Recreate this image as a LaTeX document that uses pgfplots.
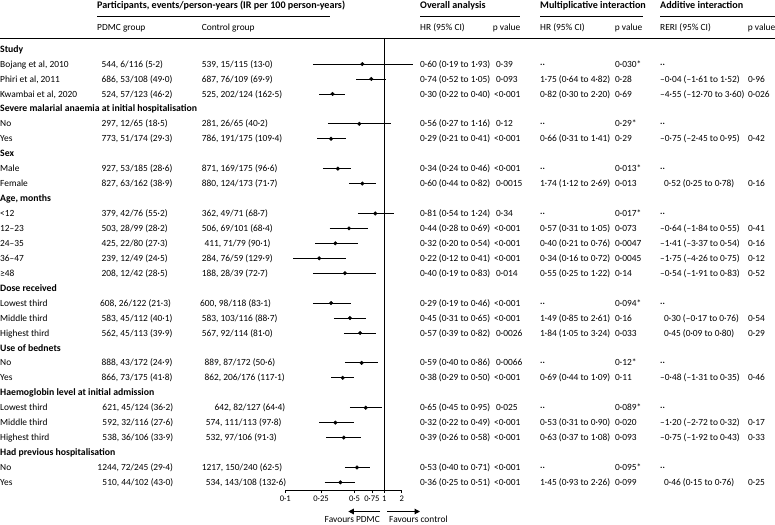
\documentclass[border=0pt]{standalone}
\usepackage{fontspec}
\setmainfont{Carlito}
\usepackage{pgfplots}
\pgfplotsset{compat=1.18}
\usetikzlibrary{arrows.meta}

\newcommand\T[3]{\node[anchor=base west,inner sep=0pt] at (#1,{52.2+14.94*(#2)}) {#3};}
\newcommand\HD[3]{\node[anchor=base west,inner sep=0pt] at (#1,#2) {#3};}
\newcommand\SecHead{\fontsize{9.75bp}{11bp}\selectfont\bfseries}
\newcommand\TopHead{\fontsize{10.1bp}{11bp}\selectfont\bfseries}

\begin{document}
\fontsize{9.4bp}{11bp}\selectfont
\begin{tikzpicture}
\useasboundingbox (0,0) rectangle (775bp,-525bp);
\begin{axis}[
  at={(343.5bp,-264.15bp)}, anchor=center,
  scale only axis, width=116.4bp, height=451.7bp,
  xmode=log, xmin=0.1, xmax=1.5, ymin=-29.51, ymax=0.723,
  axis y line=none, axis x line*=bottom,
  x axis line style={-, line width=0.7bp},
  clip=false,
  xtick={0.1,0.23,0.5,0.75,1,1.5},
  xticklabels={0·1,0·25,0·5,0·75,1,2},
  minor xtick={}, minor tick num=0,
  tick align=outside, major tick length=3bp,
  xtick style={black, line width=0.6bp},
  xticklabel style={inner sep=0pt, anchor=base, yshift=-8.5bp, font=\fontsize{8.6bp}{10bp}\selectfont},
]
% reference line at HR = 1
\addplot[black, line width=0.8bp] coordinates {(1,0.723) (1,-29.51)};
% confidence intervals
\addplot[black, line width=0.8bp] coordinates {(0.19,-1) (1.93,-1)};
\addplot[black, line width=0.8bp] coordinates {(0.52,-2) (1.05,-2)};
\addplot[black, line width=0.8bp] coordinates {(0.22,-3) (0.40,-3)};
\addplot[black, line width=0.8bp] coordinates {(0.27,-5) (1.16,-5)};
\addplot[black, line width=0.8bp] coordinates {(0.21,-6) (0.41,-6)};
\addplot[black, line width=0.8bp] coordinates {(0.24,-8) (0.46,-8)};
\addplot[black, line width=0.8bp] coordinates {(0.44,-9) (0.82,-9)};
\addplot[black, line width=0.8bp] coordinates {(0.54,-11) (1.24,-11)};
\addplot[black, line width=0.8bp] coordinates {(0.28,-12) (0.69,-12)};
\addplot[black, line width=0.8bp] coordinates {(0.20,-13) (0.54,-13)};
\addplot[black, line width=0.8bp] coordinates {(0.12,-14) (0.41,-14)};
\addplot[black, line width=0.8bp] coordinates {(0.19,-15) (0.83,-15)};
\addplot[black, line width=0.8bp] coordinates {(0.19,-17) (0.46,-17)};
\addplot[black, line width=0.8bp] coordinates {(0.31,-18) (0.65,-18)};
\addplot[black, line width=0.8bp] coordinates {(0.39,-19) (0.82,-19)};
\addplot[black, line width=0.8bp] coordinates {(0.40,-21) (0.86,-21)};
\addplot[black, line width=0.8bp] coordinates {(0.29,-22) (0.50,-22)};
\addplot[black, line width=0.8bp] coordinates {(0.45,-24) (0.95,-24)};
\addplot[black, line width=0.8bp] coordinates {(0.22,-25) (0.49,-25)};
\addplot[black, line width=0.8bp] coordinates {(0.26,-26) (0.58,-26)};
\addplot[black, line width=0.8bp] coordinates {(0.40,-28) (0.71,-28)};
\addplot[black, line width=0.8bp] coordinates {(0.25,-29) (0.51,-29)};
% point estimates
\addplot[only marks, mark=*, mark size=1.8bp, black] coordinates {
 (0.60,-1) (0.74,-2) (0.30,-3) (0.56,-5) (0.29,-6) (0.34,-8) (0.60,-9)
 (0.81,-11) (0.44,-12) (0.32,-13) (0.22,-14) (0.40,-15)
 (0.29,-17) (0.45,-18) (0.57,-19) (0.59,-21) (0.38,-22)
 (0.65,-24) (0.32,-25) (0.39,-26) (0.53,-28) (0.36,-29)};
\end{axis}

\draw[-{Triangle[length=5.5bp,width=5.5bp]}, line width=1.2bp] (380bp,-511.5bp) -- (348.3bp,-511.5bp);
\draw[-{Triangle[length=5.5bp,width=5.5bp]}, line width=1.2bp] (387.3bp,-511.5bp) -- (420bp,-511.5bp);

\begin{scope}[x=1bp,y=-1bp]
\draw[line width=1.3bp] (0,38.3) -- (775,38.3);
\draw[line width=0.7bp] (97,16.7) -- (329.5,16.7);
\draw[line width=0.7bp] (420,16.7) -- (520,16.7);
\draw[line width=0.7bp] (540,16.7) -- (643,16.7);
\draw[line width=0.7bp] (660,16.7) -- (775,16.7);
\HD{97}{8.5}{\TopHead Participants, events/person-years (IR per 100 person-years)}
\HD{420}{8.5}{\TopHead Overall analysis}
\HD{540}{8.5}{\TopHead Multiplicative interaction}
\HD{660}{8.5}{\TopHead Additive interaction}
\HD{97}{30.5}{PDMC group}
\HD{201.7}{30.5}{Control group}
\HD{420}{30.5}{HR (95\% CI)}
\HD{492.7}{30.5}{p value}
\HD{540}{30.5}{HR (95\% CI)}
\HD{614.7}{30.5}{p value}
\HD{660}{30.5}{RERI (95\% CI)}
\HD{747.7}{30.5}{p value}
\node[anchor=base east,inner sep=0pt] at (380,522.3) {Favours PDMC};
\node[anchor=base west,inner sep=0pt] at (389,522.3) {Favours control};

\T{0}{0}{\SecHead Study}
\T{0}{1}{Bojang et al, 2010}\T{101.5}{1}{544, 6/116 (5·2)}\T{201.7}{1}{539, 15/115 (13·0)}\T{420}{1}{0·60 (0·19 to 1·93)}\T{496}{1}{0·39}\T{540}{1}{··}\T{615}{1}{0·030*}\T{660}{1}{··}
\T{0}{2}{Phiri et al, 2011}\T{101.5}{2}{686, 53/108 (49·0)}\T{201.7}{2}{687, 76/109 (69·9)}\T{420}{2}{0·74 (0·52 to 1·05)}\T{496}{2}{0·093}\T{540}{2}{1·75 (0·64 to 4·82)}\T{615}{2}{0·28}\T{660}{2}{–0·04 (–1·61 to 1·52)}\T{748}{2}{0·96}
\T{0}{3}{Kwambai et al, 2020}\T{101.5}{3}{524, 57/123 (46·2)}\T{201.7}{3}{525, 202/124 (162·5)}\T{420}{3}{0·30 (0·22 to 0·40)}\T{494}{3}{<0·001}\T{540}{3}{0·82 (0·30 to 2·20)}\T{615}{3}{0·69}\T{660}{3}{–4·55 (–12·70 to 3·60)}\T{748}{3}{0·026}
\T{0}{4}{\SecHead Severe malarial anaemia at initial hospitalisation}
\T{0}{5}{No}\T{101.5}{5}{297, 12/65 (18·5)}\T{201.7}{5}{281, 26/65 (40·2)}\T{420}{5}{0·56 (0·27 to 1·16)}\T{496}{5}{0·12}\T{540}{5}{··}\T{615}{5}{0·29*}\T{660}{5}{··}
\T{0}{6}{Yes}\T{101.5}{6}{773, 51/174 (29·3)}\T{201.7}{6}{786, 191/175 (109·4)}\T{420}{6}{0·29 (0·21 to 0·41)}\T{494}{6}{<0·001}\T{540}{6}{0·66 (0·31 to 1·41)}\T{615}{6}{0·29}\T{660}{6}{–0·75 (–2·45 to 0·95)}\T{748}{6}{0·42}
\T{0}{7}{\SecHead Sex}
\T{0}{8}{Male}\T{101.5}{8}{927, 53/185 (28·6)}\T{201.7}{8}{871, 169/175 (96·6)}\T{420}{8}{0·34 (0·24 to 0·46)}\T{494}{8}{<0·001}\T{540}{8}{··}\T{615}{8}{0·013*}\T{660}{8}{··}
\T{0}{9}{Female}\T{101.5}{9}{827, 63/162 (38·9)}\T{201.7}{9}{880, 124/173 (71·7)}\T{420}{9}{0·60 (0·44 to 0·82)}\T{496}{9}{0·0015}\T{540}{9}{1·74 (1·12 to 2·69)}\T{615}{9}{0·013}\T{664}{9}{0·52 (0·25 to 0·78)}\T{748}{9}{0·16}
\T{0}{10}{\SecHead Age, months}
\T{0}{11}{<12}\T{101.5}{11}{379, 42/76 (55·2)}\T{201.7}{11}{362, 49/71 (68·7)}\T{420}{11}{0·81 (0·54 to 1·24)}\T{496}{11}{0·34}\T{540}{11}{··}\T{615}{11}{0·017*}\T{660}{11}{··}
\T{0}{12}{12–23}\T{101.5}{12}{503, 28/99 (28·2)}\T{201.7}{12}{506, 69/101 (68·4)}\T{420}{12}{0·44 (0·28 to 0·69)}\T{494}{12}{<0·001}\T{540}{12}{0·57 (0·31 to 1·05)}\T{615}{12}{0·073}\T{660}{12}{–0·64 (–1·84 to 0·55)}\T{748}{12}{0·41}
\T{0}{13}{24–35}\T{101.5}{13}{425, 22/80 (27·3)}\T{204.3}{13}{411, 71/79 (90·1)}\T{420}{13}{0·32 (0·20 to 0·54)}\T{494}{13}{<0·001}\T{540}{13}{0·40 (0·21 to 0·76)}\T{615}{13}{0·0047}\T{660}{13}{–1·41 (–3·37 to 0·54)}\T{748}{13}{0·16}
\T{0}{14}{36–47}\T{101.5}{14}{239, 12/49 (24·5)}\T{201.7}{14}{284, 76/59 (129·9)}\T{420}{14}{0·22 (0·12 to 0·41)}\T{494}{14}{<0·001}\T{540}{14}{0·34 (0·16 to 0·72)}\T{615}{14}{0·0045}\T{660}{14}{–1·75 (–4·26 to 0·75)}\T{748}{14}{0·12}
\T{0}{15}{≥48}\T{101.5}{15}{208, 12/42 (28·5)}\T{201.7}{15}{188, 28/39 (72·7)}\T{420}{15}{0·40 (0·19 to 0·83)}\T{496}{15}{0·014}\T{540}{15}{0·55 (0·25 to 1·22)}\T{615}{15}{0·14}\T{660}{15}{–0·54 (–1·91 to 0·83)}\T{748}{15}{0·52}
\T{0}{16}{\SecHead Dose received}
\T{0}{17}{Lowest third}\T{100}{17}{608, 26/122 (21·3)}\T{200}{17}{600, 98/118 (83·1)}\T{420}{17}{0·29 (0·19 to 0·46)}\T{494}{17}{<0·001}\T{540}{17}{··}\T{615}{17}{0·094*}\T{660}{17}{··}
\T{0}{18}{Middle third}\T{101.5}{18}{583, 45/112 (40·1)}\T{201.7}{18}{583, 103/116 (88·7)}\T{420}{18}{0·45 (0·31 to 0·65)}\T{494}{18}{<0·001}\T{540}{18}{1·49 (0·85 to 2·61)}\T{615}{18}{0·16}\T{664}{18}{0·30 (–0·17 to 0·76)}\T{748}{18}{0·54}
\T{0}{19}{Highest third}\T{101.5}{19}{562, 45/113 (39·9)}\T{201.7}{19}{567, 92/114 (81·0)}\T{420}{19}{0·57 (0·39 to 0·82)}\T{496}{19}{0·0026}\T{540}{19}{1·84 (1·05 to 3·24)}\T{615}{19}{0·033}\T{664}{19}{0·45 (0·09 to 0·80)}\T{748}{19}{0·29}
\T{0}{20}{\SecHead Use of bednets}
\T{0}{21}{No}\T{101.5}{21}{888, 43/172 (24·9)}\T{204.3}{21}{889, 87/172 (50·6)}\T{420}{21}{0·59 (0·40 to 0·86)}\T{496}{21}{0·0066}\T{540}{21}{··}\T{615}{21}{0·12*}\T{660}{21}{··}
\T{0}{22}{Yes}\T{101.5}{22}{866, 73/175 (41·8)}\T{204.3}{22}{862, 206/176 (117·1)}\T{420}{22}{0·38 (0·29 to 0·50)}\T{494}{22}{<0·001}\T{540}{22}{0·69 (0·44 to 1·09)}\T{615}{22}{0·11}\T{660}{22}{–0·48 (–1·31 to 0·35)}\T{748}{22}{0·46}
\T{0}{23}{\SecHead Haemoglobin level at initial admission}
\T{0}{24}{Lowest third}\T{102.3}{24}{621, 45/124 (36·2)}\T{214.3}{24}{642, 82/127 (64·4)}\T{420}{24}{0·65 (0·45 to 0·95)}\T{496}{24}{0·025}\T{540}{24}{··}\T{615}{24}{0·089*}\T{660}{24}{··}
\T{0}{25}{Middle third}\T{102.3}{25}{592, 32/116 (27·6)}\T{205.7}{25}{574, 111/113 (97·8)}\T{420}{25}{0·32 (0·22 to 0·49)}\T{494}{25}{<0·001}\T{540}{25}{0·53 (0·31 to 0·90)}\T{615}{25}{0·020}\T{660}{25}{–1·20 (–2·72 to 0·32)}\T{748}{25}{0·17}
\T{0}{26}{Highest third}\T{102.3}{26}{538, 36/106 (33·9)}\T{205.7}{26}{532, 97/106 (91·3)}\T{420}{26}{0·39 (0·26 to 0·58)}\T{494}{26}{<0·001}\T{540}{26}{0·63 (0·37 to 1·08)}\T{615}{26}{0·093}\T{660}{26}{–0·75 (–1·92 to 0·43)}\T{748}{26}{0·33}
\T{0}{27}{\SecHead Had previous hospitalisation}
\T{0}{28}{No}\T{97.3}{28}{1244, 72/245 (29·4)}\T{201.7}{28}{1217, 150/240 (62·5)}\T{420}{28}{0·53 (0·40 to 0·71)}\T{494}{28}{<0·001}\T{540}{28}{··}\T{615}{28}{0·095*}\T{660}{28}{··}
\T{0}{29}{Yes}\T{102.3}{29}{510, 44/102 (43·0)}\T{205.7}{29}{534, 143/108 (132·6)}\T{420}{29}{0·36 (0·25 to 0·51)}\T{494}{29}{<0·001}\T{540}{29}{1·45 (0·93 to 2·26)}\T{615}{29}{0·099}\T{664}{29}{0·46 (0·15 to 0·76)}\T{748}{29}{0·25}
\end{scope}
\end{tikzpicture}
\end{document}
